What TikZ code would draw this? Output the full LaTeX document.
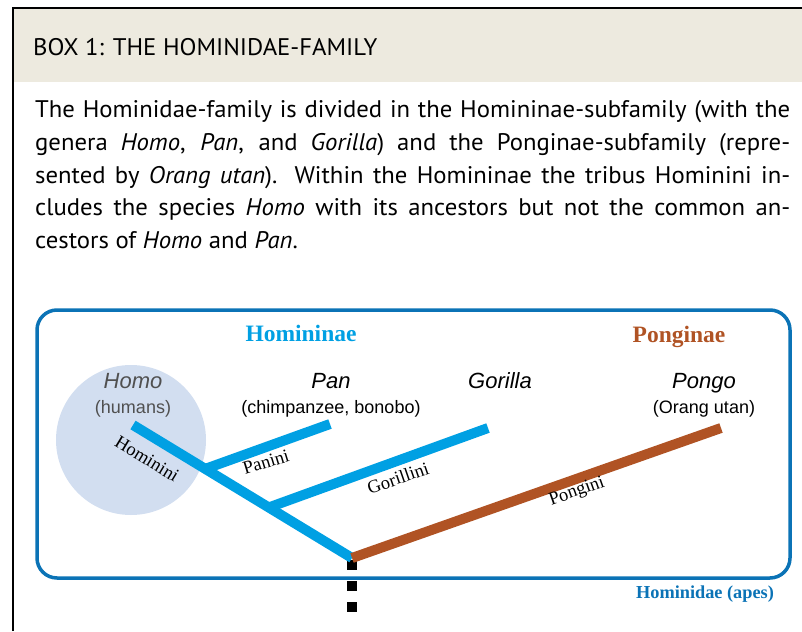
\documentclass[tikz,border=0pt]{standalone}
\usetikzlibrary{calc}
\usepackage{fontspec}
\setmainfont{Liberation Serif}
\newfontfamily\bodyfont[FakeStretch=1.03]{PT Sans}
\newfontfamily\arialfont{Liberation Sans}
\definecolor{beige}{HTML}{EDEADF}
\definecolor{framblue}{HTML}{0B73B6}
\definecolor{cyanline}{HTML}{00A0E3}
\definecolor{brownline}{HTML}{B05324}
\definecolor{circfill}{HTML}{D2DEF0}
\definecolor{homogray}{HTML}{505050}
\tikzset{
  bodyline/.style={anchor=base west, inner sep=0pt, font=\bodyfont\fontsize{24}{28}\selectfont},
  genus/.style={inner sep=0pt, anchor=base, font=\arialfont\itshape\fontsize{22}{26}\selectfont},
  common/.style={inner sep=0pt, anchor=base, font=\arialfont\fontsize{18}{22}\selectfont},
  branchlbl/.style={inner sep=0pt, font=\fontsize{18.5}{20}\selectfont},
  grouplbl/.style={inner sep=0pt, anchor=base, font=\bfseries\fontsize{23.5}{26}\selectfont},
  branch/.style={line width=10pt},
}
\newcommand{\jline}[1]{\makebox[755pt][s]{#1}}
\begin{document}
\begin{tikzpicture}[x=1pt,y=-1pt]
\useasboundingbox (0,0) rectangle (802,631);
% outer frame
\fill[beige] (14,8) rectangle (802,82);
\draw[line width=2pt] (13,631) -- (13,8) -- (802,8);
\node[bodyline] (title) at (33,56) {BOX 1: THE HOMINIDAE-FAMILY};
% body text
\node[bodyline] (l1) at (35,118) {\jline{The Hominidae-family is divided in the Homininae-subfamily (with the}};
\node[bodyline] (l2) at (35,150.5) {\jline{genera \textit{Homo}, \textit{Pan}, and \textit{Gorilla}) and the Ponginae-subfamily (repre-}};
\node[bodyline] (l3) at (35,183) {\jline{sented by \textit{Orang utan}). Within the Homininae the tribus Hominini in-}};
\node[bodyline] (l4) at (35,215.5) {\jline{cludes the species \textit{Homo} with its ancestors but not the common an-}};
\node[bodyline] (l5) at (35,248) {cestors of \textit{Homo} and \textit{Pan}.};
% diagram frame
\draw[framblue, line width=3.5pt, rounded corners=20pt] (37,310) rectangle (790,578);
\fill[circfill] (131,440) circle (75);
% labels
\node[grouplbl, text=cyanline] (hominae) at (301,341) {Homininae};
\node[grouplbl, text=brownline] (pongae) at (679,342) {Ponginae};
\node[inner sep=0pt, anchor=base, font=\bfseries\fontsize{18.3}{20}\selectfont, text=framblue] (apes) at (705,598) {Hominidae (apes)};
\node[genus, text=homogray] (homo) at (133,388) {Homo};
\node[common, text=homogray] (humans) at (133,413) {(humans)};
\node[genus] (pan) at (331,388) {Pan};
\node[common] (chimp) at (331,413) {(chimpanzee, bonobo)};
\node[genus] (gorilla) at (500,388) {Gorilla};
\node[genus] (pongo) at (704,388) {Pongo};
\node[common] (orang) at (704,413) {(Orang utan)};
% tree
\coordinate (root) at (352,558);
\coordinate (homotip) at (133,425);
\coordinate (pantip) at (330,424);
\coordinate (gortip) at (488,428);
\coordinate (pongotip) at (721,428);
\coordinate (panbase) at ($(root)!0.67!(homotip)$);
\coordinate (gorbase) at ($(root)!0.38!(homotip)$);
\coordinate (dashstart) at (352,560);
\coordinate (dashend) at (352,612);
\draw[line width=10pt, dash pattern=on 10pt off 11pt] (dashstart) -- (dashend);
\draw[branch, cyanline] (root) -- (homotip);
\draw[branch, cyanline] (panbase) -- (pantip);
\draw[branch, cyanline] (gorbase) -- (gortip);
\draw[branch, brownline] (root) -- (pongotip);
% branch labels
\node[branchlbl, rotate=-31.3] (hominini) at (147,459) {Hominini};
\node[branchlbl, rotate=17] (panini) at (266,462) {Panini};
\node[branchlbl, rotate=19] (gorillini) at (398,478) {Gorillini};
\node[branchlbl, rotate=19.5] (pongini) at (577,492) {Pongini};
\end{tikzpicture}
\end{document}
